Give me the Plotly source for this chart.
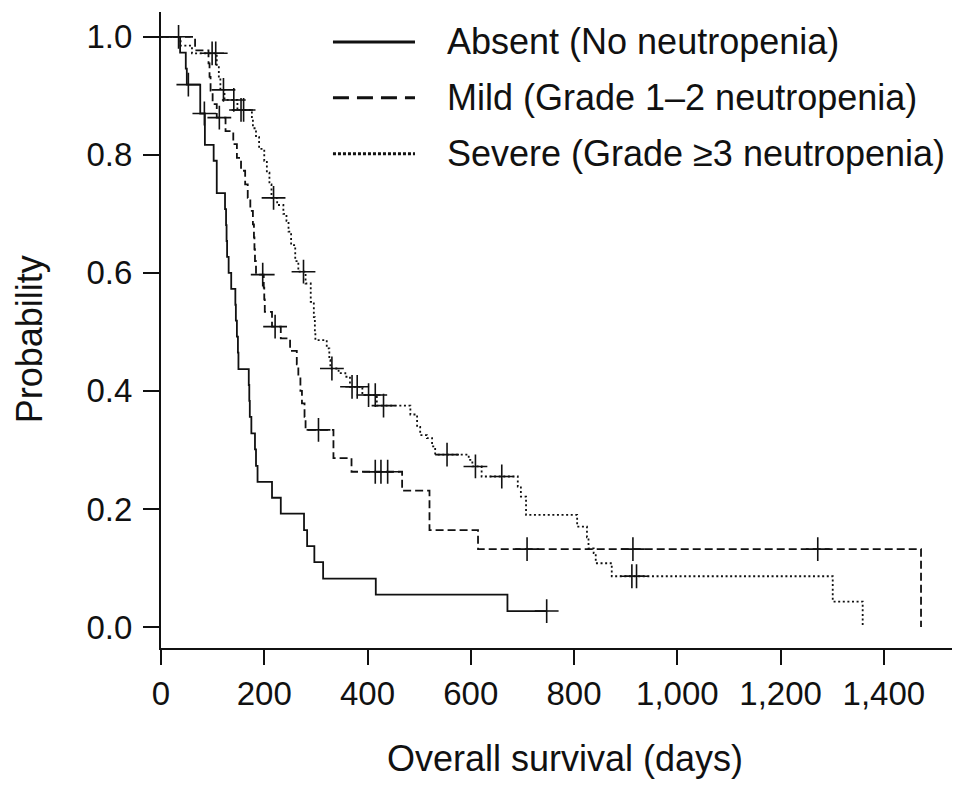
import plotly.graph_objects as go

# ---- data ----
series_names = ["Absent (No neutropenia)", "Mild (Grade 1\u20132 neutropenia)", "Severe (Grade \u22653 neutropenia)"]

absent_t = [0, 37, 48, 50, 76, 85, 102, 108, 124, 126, 127, 128, 131, 136, 144, 145, 147, 149, 150,
            170, 171, 172, 175, 182, 184, 187, 215, 232, 277, 283, 297, 314, 416, 671, 747]
absent_s = [1.0, 0.973, 0.946, 0.919, 0.870, 0.817, 0.790, 0.735, 0.708, 0.681, 0.654, 0.627, 0.600, 0.573,
            0.546, 0.519, 0.492, 0.465, 0.437, 0.410, 0.383, 0.356, 0.328, 0.301, 0.273, 0.246, 0.219,
            0.192, 0.164, 0.137, 0.110, 0.082, 0.055, 0.027, 0.027]
absent_cens_t = [53, 84, 747]
absent_cens_s = [0.919, 0.870, 0.027]

mild_t = [0, 66, 92, 94, 96, 100, 108, 125, 140, 147, 155, 163, 168, 173, 178, 180, 181, 182, 184,
          199, 200, 201, 215, 232, 250, 263, 266, 270, 273, 278, 280, 334, 369, 467, 520, 614, 1472]
mild_s = [1.0, 0.977, 0.955, 0.932, 0.909, 0.886, 0.863, 0.840, 0.818, 0.795, 0.773, 0.750, 0.727, 0.705,
          0.682, 0.660, 0.640, 0.620, 0.597, 0.575, 0.555, 0.534, 0.509, 0.489, 0.468, 0.445, 0.423,
          0.400, 0.379, 0.356, 0.334, 0.286, 0.263, 0.231, 0.164, 0.132, 0.0]
mild_cens_t = [113, 197, 221, 305, 415, 426, 439, 709, 914, 1272]
mild_cens_s = [0.863, 0.597, 0.509, 0.334, 0.263, 0.263, 0.263, 0.132, 0.132, 0.132]

severe_t = [0, 38, 60, 108, 112, 115, 123, 148, 176, 178, 184, 190, 200, 205, 210, 214, 225, 237, 243,
            247, 252, 260, 266, 280, 290, 296, 298, 299, 321, 326, 328, 344, 357, 366, 390, 418, 483,
            496, 502, 515, 525, 531, 596, 603, 621, 691, 697, 707, 806, 825, 828, 838, 842, 873, 1301, 1359]
severe_s = [1.0, 0.985, 0.972, 0.950, 0.930, 0.910, 0.893, 0.876, 0.862, 0.845, 0.830, 0.810, 0.790,
            0.770, 0.750, 0.727, 0.715, 0.700, 0.688, 0.670, 0.647, 0.620, 0.602, 0.582, 0.551, 0.525,
            0.500, 0.486, 0.472, 0.452, 0.438, 0.430, 0.424, 0.407, 0.393, 0.375, 0.360, 0.339, 0.325,
            0.320, 0.306, 0.292, 0.283, 0.272, 0.255, 0.238, 0.221, 0.190, 0.170, 0.152, 0.133, 0.125,
            0.108, 0.086, 0.043, 0.0]
severe_cens_t = [34, 99, 106, 121, 141, 155, 160, 218, 276, 331, 370, 380, 402, 415, 431, 554, 609, 660, 912, 921]
severe_cens_s = [1.0, 0.972, 0.972, 0.910, 0.893, 0.876, 0.876, 0.727, 0.602, 0.438, 0.407, 0.407, 0.393,
                 0.393, 0.375, 0.292, 0.272, 0.255, 0.086, 0.086]

x_ticks = [0, 200, 400, 600, 800, 1000, 1200, 1400]
x_ticktext = ["0", "200", "400", "600", "800", "1,000", "1,200", "1,400"]
y_ticks = [0.0, 0.2, 0.4, 0.6, 0.8, 1.0]
y_ticktext = ["0.0", "0.2", "0.4", "0.6", "0.8", "1.0"]

# ---- styling ----
FONT = "Liberation Sans, Arial, Helvetica, sans-serif"
INK = "#111111"
curve_dash = ["solid", "8px,4px", "2px,2.6px"]
legend_dash = ["solid", "16px,8px", "3px,2px"]

groups = [
    (absent_t, absent_s, absent_cens_t, absent_cens_s),
    (mild_t, mild_s, mild_cens_t, mild_cens_s),
    (severe_t, severe_s, severe_cens_t, severe_cens_s),
]

fig = go.Figure()
for name, dash, (t, s, ct, cs) in zip(series_names, curve_dash, groups):
    fig.add_trace(go.Scatter(x=t, y=s, mode="lines", line=dict(color=INK, width=1.8, dash=dash, shape="hv"),
                             name=name, showlegend=False))
    fig.add_trace(go.Scatter(x=ct, y=cs, mode="markers",
                             marker=dict(symbol="cross-thin", size=17, color=INK,
                                         line=dict(color=INK, width=1.6)),
                             showlegend=False, hoverinfo="skip"))

# manual legend (lines longer than plotly's native legend samples)
leg_rows_y = [0.953, 0.865, 0.777]
for name, dash, yy in zip(series_names, legend_dash, leg_rows_y):
    fig.add_shape(type="line", xref="paper", yref="paper", x0=0.2174, x1=0.3211, y0=yy, y1=yy,
                  line=dict(color=INK, width=3, dash=dash))
    fig.add_annotation(xref="paper", yref="paper", x=0.3585, y=yy, text=name, showarrow=False,
                       xanchor="left", yanchor="middle", font=dict(family=FONT, size=36, color=INK))

# axis titles
fig.add_annotation(xref="paper", yref="paper", x=0.511, y=-0.1743, text="Overall survival (days)",
                   showarrow=False, xanchor="center", yanchor="middle",
                   font=dict(family=FONT, size=36, color=INK))
fig.add_annotation(xref="paper", yref="paper", x=-0.166, y=0.485, text="Probability", textangle=-90,
                   showarrow=False, xanchor="center", yanchor="middle",
                   font=dict(family=FONT, size=36, color=INK))

# the page body adds an 8px offset, so the figure is sized to fit the 969x792 window
fig.update_layout(
    width=961, height=784,
    margin=dict(l=153, r=17, t=4, b=144),
    paper_bgcolor="white", plot_bgcolor="white",
    font=dict(family=FONT, size=33, color=INK),
    showlegend=False,
)
fig.update_xaxes(range=[0, 1532], tickvals=x_ticks, ticktext=x_ticktext, showline=True, linecolor=INK,
                 linewidth=2, ticks="outside", ticklen=15, tickwidth=1.6, tickcolor=INK,
                 showgrid=False, zeroline=False, tickfont=dict(family=FONT, size=33, color=INK))
fig.update_yaxes(range=[-0.0356, 1.042], tickvals=y_ticks, ticktext=y_ticktext, showline=True, linecolor=INK,
                 linewidth=2, ticks="outside", ticklen=16, tickwidth=1.6, tickcolor=INK,
                 ticklabelstandoff=4,
                 showgrid=False, zeroline=False, tickfont=dict(family=FONT, size=33, color=INK))

fig.write_html("out.html")
